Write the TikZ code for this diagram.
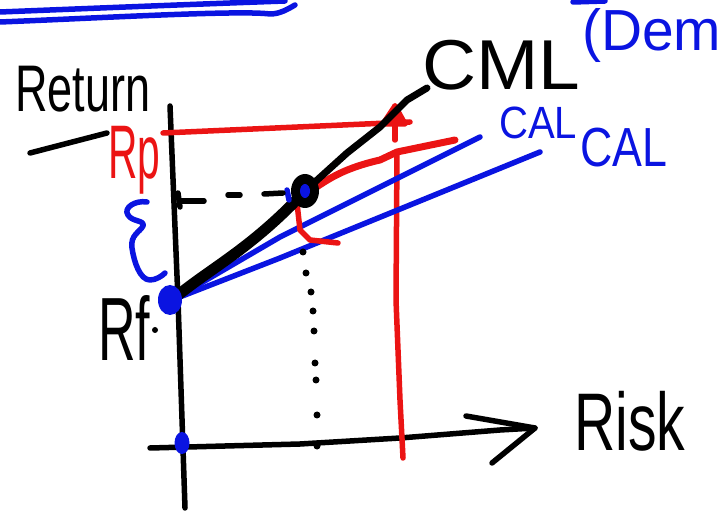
\documentclass[tikz,border=0pt]{standalone}
\usepackage{fontspec}
\setmainfont{Liberation Sans}
\usepackage{graphicx}
\usetikzlibrary{shapes.geometric}
\definecolor{pred}{RGB}{235,20,20}
\definecolor{pblue}{RGB}{10,20,225}
\newcommand{\fitbox}[3]{\resizebox*{#1pt}{#2pt}{#3}}
\begin{document}
\begin{tikzpicture}[x=1pt,y=-1pt,
  pen/.style={line width=5.5pt,line cap=round,line join=round},
  rpen/.style={pen,draw=pred},
  bpen/.style={pen,draw=pblue},
  kpen/.style={pen,draw=black},
  lbl/.style={inner sep=0pt,anchor=north west},
  dotk/.style={circle,fill=black,inner sep=0pt,minimum size=7pt}]
\useasboundingbox (0,0) rectangle (723,518);
% top blue double line
\coordinate (t1a) at (0,12); \coordinate (t1b) at (285,1);
\coordinate (t2a) at (0,22); \coordinate (t2b) at (295,5);
\draw[bpen] (t1a) .. controls (100,8) and (200,4) .. (t1b);
\draw[bpen] (t2a) .. controls (100,18) and (240,10) .. (270,14) .. controls (280,14) and (288,9) .. (t2b);
% axes
\coordinate (ytop) at (170,106); \coordinate (ybot) at (185,508);
\draw[kpen] (ytop) -- (178,300) -- (ybot);
\coordinate (xl) at (150,448); \coordinate (xtip) at (535,428);
\coordinate (xh1) at (466,416); \coordinate (xh2) at (492,463);
\draw[kpen] (xl) -- (300,444) -- (400,438) -- (500,430) -- (xtip);
\draw[kpen] (xh1) -- (xtip) -- (xh2);
% Return label and underline
\node[lbl] (ret) at (15,66) {\fitbox{135}{46}{Return}};
\coordinate (ul1) at (30,153); \coordinate (ul2) at (107,133);
\draw[kpen] (ul1) -- (ul2);
% Rp
\node[lbl,text=pred] (rp) at (108,126) {\fitbox{52}{68}{Rp}};
% brace
\draw[bpen] (147,202) .. controls (135,200) and (123,208) .. (128,215)
  .. controls (132,222) and (145,220) .. (143,226)
  .. controls (140,232) and (130,235) .. (132,248)
  .. controls (134,262) and (140,280) .. (150,280) .. controls (156,280) and (162,276) .. (165,273);
% Rf
\node[lbl] (rf) at (98,295) {\fitbox{52}{65}{Rf}};
\node[circle,fill=black,inner sep=0pt,minimum size=6pt] (rfdot) at (155,330) {};
% key points
\coordinate (rfp) at (172,300);
\coordinate (tan) at (305,191);
% Rp horizontal red line
\coordinate (rpa) at (163,133); \coordinate (rpb) at (410,122);
\draw[rpen] (rpa) -- (rpb);
% red marker
\coordinate (rm1) at (383,124); \coordinate (rm2) at (395,106); \coordinate (rm3) at (405,124);
\draw[rpen,fill=pred] (rm1) -- (rm2) -- (rm3) -- cycle;
\coordinate (rm4) at (395,140);
\draw[rpen] (rm2) -- (rm4);
% red vertical
\coordinate (rva) at (397,152); \coordinate (rvb) at (403,458);
\draw[rpen] (rva) -- (396,300) -- (400,400) -- (rvb);
% blue lines
\coordinate (b1) at (480,137); \coordinate (b2) at (540,152);
\draw[bpen] (rfp) -- (280,237) -- (b1);
\draw[bpen] (rfp) -- (280,258) -- (b2);
% red line from tangent point
\coordinate (r2b) at (455,140);
\draw[rpen,line width=7pt] (315,188) .. controls (330,178) and (345,168) .. (380,160) -- (397,152) -- (r2b);
% red L
\coordinate (rl1) at (297,203); \coordinate (rl3) at (338,243);
\draw[rpen] (rl1) -- (300,230) -- (310,240) -- (rl3);
% black CML line
\coordinate (cmlend) at (427,88);
\draw[kpen,line width=11pt] (rfp) .. controls (210,268) and (250,250) .. (tan);
\draw[kpen,line width=7pt] (tan) -- (347,153) -- (380,127) -- (407,100) -- (cmlend);
% tangent blob
\node[ellipse,fill=black,minimum width=28pt,minimum height=34pt,inner sep=0pt] (blob) at (tan) {};
\node[ellipse,fill=pblue,minimum width=10pt,minimum height=14pt,inner sep=0pt] (blobin) at (tan) {};
\draw[bpen] (287,190) -- (289,200);
% Rf dot and axis dot
\node[ellipse,fill=pblue,minimum width=24pt,minimum height=30pt,inner sep=0pt] (rfb) at (170,300) {};
\node[ellipse,fill=pblue,minimum width=15pt,minimum height=22pt,inner sep=0pt] (axb) at (182,443) {};
% dashed line
\coordinate (d0) at (178,193); \coordinate (d0b) at (180,207);
\draw[kpen] (d0) -- (d0b);
\coordinate (d1a) at (180,201); \coordinate (d1b) at (204,201);
\draw[kpen] (d1a) -- (d1b);
\coordinate (d2a) at (228,195); \coordinate (d2b) at (240,195);
\draw[kpen] (d2a) -- (d2b);
\coordinate (d3a) at (264,194); \coordinate (d3b) at (283,193);
\draw[kpen] (d3a) -- (d3b);
% dotted vertical
\foreach \i/\px/\py in {1/303/252,2/306/273,3/311/292,4/313/311,5/314/331,6/315/363,7/316/380,8/317/415,9/317/446}
  \node[dotk] (v\i) at (\px,\py) {};
% CML labels
\node[lbl] (cml) at (422,40) {\fitbox{158}{50}{CML}};
\node[lbl,text=pblue] (dem) at (582,8) {\fitbox{139}{54}{(Dem}};
\coordinate (dm1) at (573,2); \coordinate (dm2) at (605,1);
\draw[bpen] (dm1) -- (dm2);
\node[lbl,text=pblue] (cal1) at (499,107) {\fitbox{78}{32}{CAL}};
\node[lbl,text=pblue] (cal2) at (580,128) {\fitbox{87}{39}{CAL}};
% Risk
\node[lbl] (risk) at (574,391) {\fitbox{111}{60}{Risk}};
\end{tikzpicture}
\end{document}
